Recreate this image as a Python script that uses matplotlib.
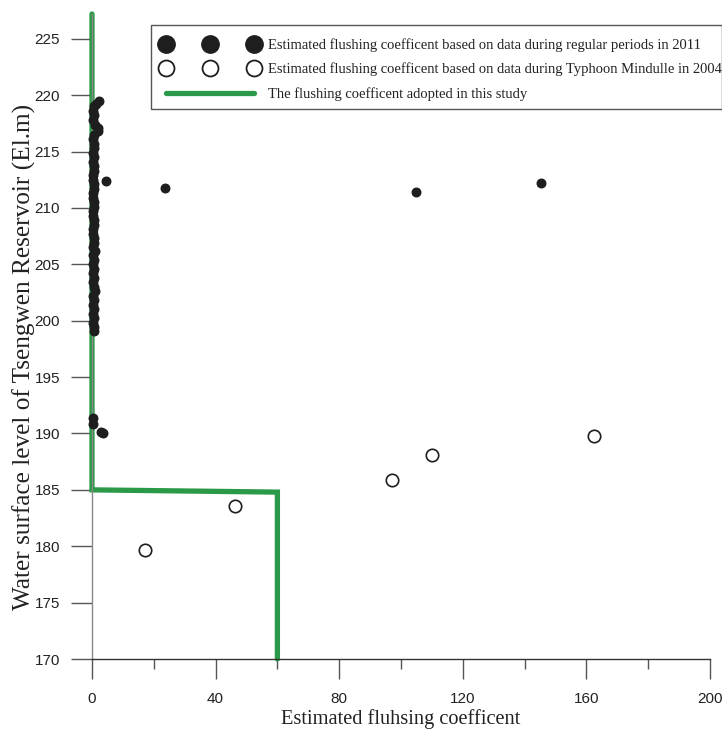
import matplotlib
matplotlib.use("Agg")
import matplotlib.pyplot as plt
from matplotlib.ticker import MultipleLocator
from matplotlib.lines import Line2D
from matplotlib.patches import Rectangle

# Regular periods 2011 (filled dots)
reg_x = [2.2, 1.2, 0.6, 0.3, 0.5, 0.4, 1.0, 2.0, 1.8, 0.6, 0.3, 0.5, 0.7, 0.4, 0.6, 0.3,
         0.5, 0.7, 0.4, 0.3, 0.5, 0.6, 0.4, 0.3, 0.5, 0.6, 0.3, 0.4, 0.7, 0.5, 0.3, 0.4,
         0.6, 0.5, 0.4, 0.9, 0.3, 0.5, 0.4, 0.6, 0.3, 0.5, 0.4, 0.6, 0.9, 0.3, 0.5, 0.4,
         0.6, 0.3, 0.5, 0.4, 0.5, 0.6,
         4.5, 23.6, 104.9, 145.3, 0.3, 0.2, 2.8, 3.6]
reg_y = [219.5, 219.2, 219.0, 218.6, 218.2, 217.8, 217.4, 217.1, 216.8, 216.5, 216.1, 215.7,
         215.3, 214.9, 214.5, 214.1, 213.7, 213.3, 212.9, 212.5, 212.1, 211.7, 211.3, 210.9,
         210.5, 210.1, 209.7, 209.3, 208.9, 208.5, 208.1, 207.7, 207.3, 206.9, 206.5, 206.2,
         205.8, 205.4, 205.0, 204.6, 204.2, 203.8, 203.4, 203.0, 202.6, 202.2, 201.8, 201.4,
         201.0, 200.6, 200.2, 199.8, 199.4, 199.1,
         212.4, 211.8, 211.4, 212.2, 191.4, 190.8, 190.1, 190.0]

# Typhoon Mindulle 2004 (open circles)
typ_x = [17.3, 46.3, 97.1, 110.0, 162.5]
typ_y = [179.7, 183.6, 185.9, 188.1, 189.8]

# Adopted flushing coefficient
adopt_x = [0, 0, 60, 60]
adopt_y = [227.2, 185.0, 184.8, 170.0]

x_ticks = [0, 40, 80, 120, 160, 200]
y_ticks = [170, 175, 180, 185, 190, 195, 200, 205, 210, 215, 220, 225]

green = "#2b9a48"
serif = "Liberation Serif"
sans = "Liberation Sans"

W, H = 722, 729
fig = plt.figure(figsize=(W/100, H/100), dpi=100)
ax = fig.add_axes([92/W, 1-659/H, (710-92)/W, (659-14)/H])

ax.plot(adopt_x, adopt_y, color=green, lw=3.8, solid_capstyle="round",
        solid_joinstyle="miter", zorder=2, clip_on=False)
ax.scatter(reg_x, reg_y, s=38, color="#1e1e1e", zorder=3, clip_on=False)
ax.scatter(typ_x, typ_y, s=80, facecolor="white", edgecolor="#1e1e1e", linewidth=1.2, zorder=3)

ax.set_xlim(0, 200)
ax.set_ylim(170, 227.2)
ax.set_xticks(x_ticks)
ax.set_yticks(y_ticks)
ax.xaxis.set_minor_locator(MultipleLocator(20))

for s in ["top", "right"]:
    ax.spines[s].set_visible(False)
ax.spines["left"].set_color("#888888")
ax.spines["bottom"].set_color("#333333")
ax.spines["left"].set_linewidth(1.0)
ax.spines["bottom"].set_linewidth(1.0)

ax.tick_params(axis="x", which="major", length=14.5, width=1.0, color="#555555", pad=9,
               labelsize=11)
ax.tick_params(axis="x", which="minor", length=7.5, width=1.0, color="#555555")
ax.tick_params(axis="y", which="major", length=15, width=1.0, color="#555555", pad=8,
               labelsize=11)
for lab in ax.get_xticklabels() + ax.get_yticklabels():
    lab.set_fontfamily(sans)
    lab.set_color("#222222")

ax.set_xlabel("Estimated fluhsing coefficent", fontfamily=serif, fontsize=14.7,
              color="#222222")
ax.set_ylabel("Water surface level of Tsengwen Reservoir (El.m)", fontfamily=serif,
              fontsize=18.2, color="#222222")
ax.xaxis.set_label_coords(0.5, -0.077)
ax.yaxis.set_label_coords(-0.09, 0.468)

# Legend frame drawn as a rectangle in figure pixels
fig.patches.append(Rectangle((151/W, 1-109/H), (W-151)/W, (109-25)/H,
                             transform=fig.transFigure, facecolor="white",
                             edgecolor="#555555", linewidth=1.0, zorder=5))

handles = [
    Line2D([], [], marker="o", ls="none", color="#1e1e1e", markersize=12.5),
    Line2D([], [], marker="o", ls="none", markerfacecolor="white",
           markeredgecolor="#1e1e1e", markeredgewidth=1.3, markersize=11.5),
    Line2D([], [], color=green, lw=3.8, solid_capstyle="round"),
]
labels = [
    "Estimated flushing coefficent based on data during regular periods in 2011",
    "Estimated flushing coefficent based on data during Typhoon Mindulle in 2004",
    "The flushing coefficent adopted in this study",
]
leg = fig.legend(handles, labels, loc="upper left", bbox_to_anchor=(162/W, 1-38/H),
                 borderaxespad=0, numpoints=3, handlelength=6.6, handletextpad=0.65,
                 borderpad=0, labelspacing=0.75, frameon=False,
                 prop={"family": serif, "size": 10.5})
leg.set_zorder(6)
for t in leg.get_texts():
    t.set_color("#222222")

fig.savefig("out.png", dpi=100)
